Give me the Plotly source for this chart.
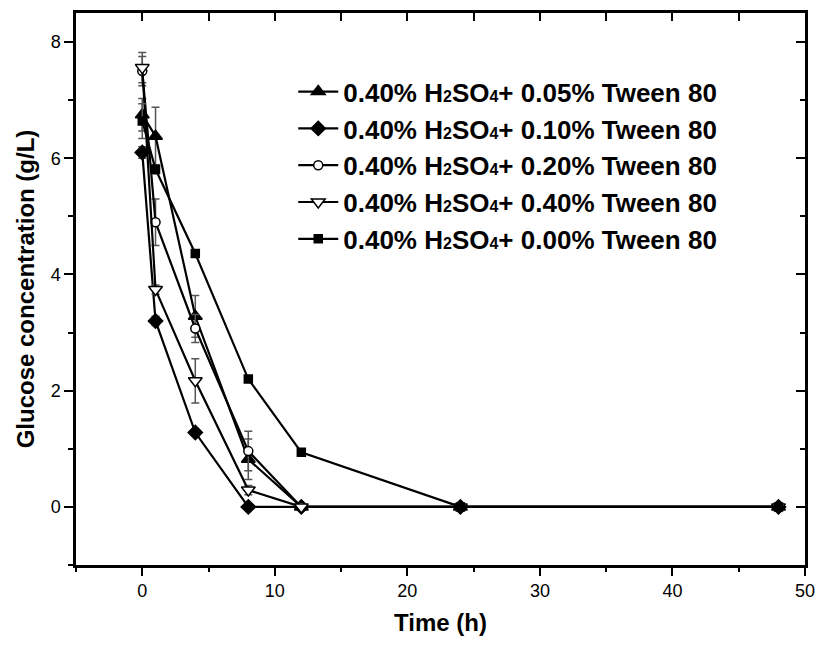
import plotly.graph_objects as go

# ---- data ----
time_h = [0, 1, 4, 8, 12, 24, 48]

tween_levels = ["0.05%", "0.10%", "0.20%", "0.40%", "0.00%"]

glc_005 = [6.75, 6.38, 3.28, 0.82, 0, 0, 0]
err_005 = [0.28, 0.50, 0.36, 0.35, 0, 0, 0]

glc_010 = [6.10, 3.20, 1.28, 0, 0, 0, 0]
err_010 = [0.10, 0.08, 0.05, 0, 0, 0, 0]

glc_020 = [7.50, 4.90, 3.07, 0.96, 0, 0, 0]
err_020 = [0.25, 0.40, 0.24, 0.34, 0, 0, 0]

glc_040 = [7.56, 3.74, 2.17, 0.29, 0, 0, 0]
err_040 = [0.26, 0.08, 0.38, 0.08, 0, 0, 0]

glc_000 = [6.64, 5.81, 4.36, 2.20, 0.94, 0, 0]
err_000 = [0.30, 0.08, 0.05, 0.05, 0.03, 0, 0]

series = [glc_005, glc_010, glc_020, glc_040, glc_000]
errors = [err_005, err_010, err_020, err_040, err_000]

SUB = '<span style="font-size:16px">{}</span>'
names = [
    "<b>0.40% H" + SUB.format("2") + "SO" + SUB.format("4") + "+ " + lv + " Tween 80</b>"
    for lv in tween_levels
]

# ---- styles ----
styles = [
    dict(symbol="triangle-up", size=12, color="black"),
    dict(symbol="diamond", size=11, color="black"),
    dict(symbol="circle", size=9, color="white"),
    dict(symbol="triangle-down", size=12, color="white"),
    dict(symbol="square", size=8, color="black"),
]

FONT = "Liberation Sans, Arial, sans-serif"

fig = go.Figure()
for i, (name, ys, es, st) in enumerate(zip(names, series, errors, styles)):
    fig.add_trace(go.Scatter(
        x=time_h, y=ys, name=name, mode="lines+markers",
        legendgroup=f"g{i}",
        line=dict(color="black", width=2.2),
        marker=dict(symbol=st["symbol"], size=st["size"], color=st["color"],
                    line=dict(color="black", width=1.5)),
        error_y=dict(type="data", array=es, visible=True,
                     color="#555555", thickness=1.5, width=4),
    ))

# dummy trace to activate the mirrored (top/right) axes
fig.add_trace(go.Scatter(x=[None], y=[None], xaxis="x2", yaxis="y2",
                         showlegend=False, hoverinfo="skip"))

xr = [-5, 50]
yr = [-1, 8.5]

fig.update_layout(
    width=827, height=647,
    margin=dict(l=76, r=16, t=13, b=82),
    paper_bgcolor="white", plot_bgcolor="white",
    font=dict(family=FONT, color="black", size=18),
    showlegend=True,
    legend=dict(x=0.298, y=0.9, xanchor="left", yanchor="top",
                bgcolor="rgba(0,0,0,0)", tracegroupgap=0,
                font=dict(family=FONT, size=26, color="black"),
                itemwidth=40),
    xaxis=dict(range=xr, showgrid=False, zeroline=False,
               showline=True, linecolor="black", linewidth=2.5,
               ticks="outside", ticklen=8, tickwidth=2, tickcolor="black",
               tick0=0, dtick=10,
               minor=dict(ticks="outside", ticklen=4, tickwidth=2,
                          tickcolor="black", dtick=5, tick0=0),
               tickfont=dict(family=FONT, size=18),
               title=dict(text="<b>Time (h)</b>",
                          font=dict(family=FONT, size=24), standoff=14)),
    yaxis=dict(range=yr, showgrid=False, zeroline=False,
               showline=True, linecolor="black", linewidth=2.5,
               ticks="outside", ticklen=9, tickwidth=2, tickcolor="black",
               tick0=0, dtick=2,
               minor=dict(ticks="outside", ticklen=5, tickwidth=2,
                          tickcolor="black", dtick=1, tick0=0),
               tickfont=dict(family=FONT, size=18),
               title=dict(text="<b>Glucose concentration (g/L)</b>",
                          font=dict(family=FONT, size=24), standoff=10)),
    xaxis2=dict(range=xr, overlaying="x", side="top", anchor="y",
                showgrid=False, zeroline=False, showline=True,
                linecolor="black", linewidth=2.5,
                ticks="inside", ticklen=8, tickwidth=2, tickcolor="black",
                tick0=0, dtick=5, showticklabels=False),
    yaxis2=dict(range=yr, overlaying="y", side="right", anchor="x",
                showgrid=False, zeroline=False, showline=True,
                linecolor="black", linewidth=2.5,
                ticks="inside", ticklen=9, tickwidth=2, tickcolor="black",
                tick0=0, dtick=2, showticklabels=False,
                minor=dict(ticks="inside", ticklen=5, tickwidth=2,
                           tickcolor="black", dtick=1, tick0=0)),
)

fig.write_html("out.html")
